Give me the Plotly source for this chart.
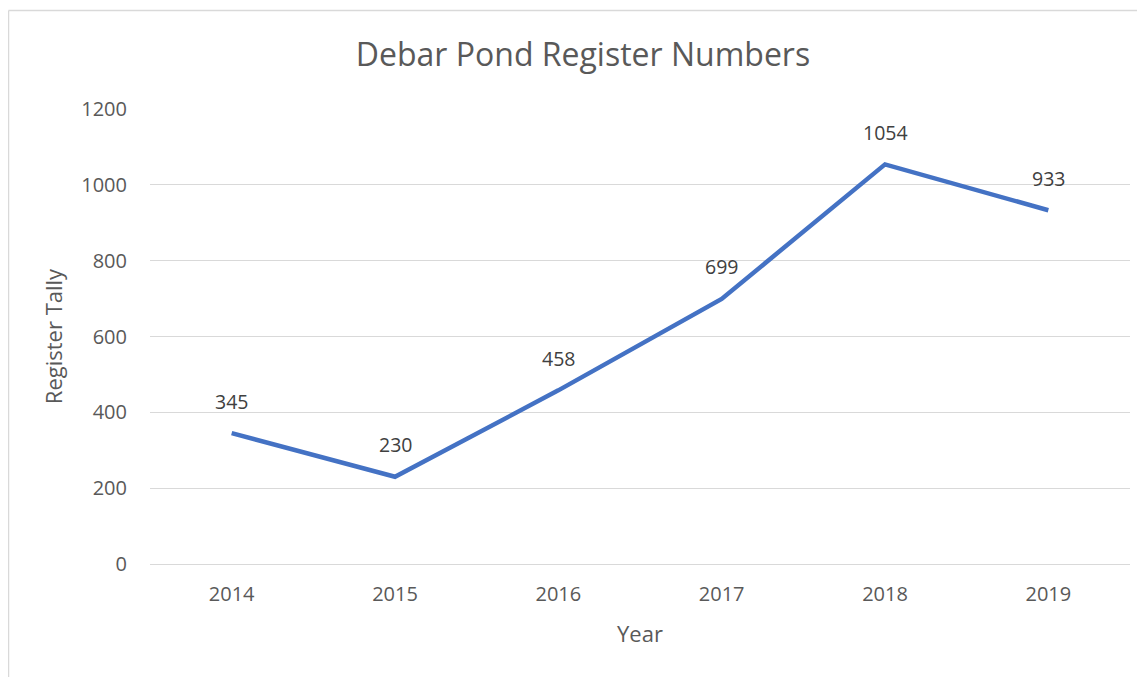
import plotly.graph_objects as go

years = ["2014", "2015", "2016", "2017", "2018", "2019"]
tally = [345, 230, 458, 699, 1054, 933]
y_ticks = [0, 200, 400, 600, 800, 1000, 1200]

TXT = "#595959"
FONT = "Open Sans"

W, H = 1137, 669          # page body adds an 8px margin
L, R, T, B = 142, 15, 101, 113
PW, PH = W - L - R, H - T - B

fig = go.Figure()
fig.add_trace(go.Scatter(
    x=years, y=tally, mode="lines",
    line=dict(color="#4472C4", width=4.5),
    hoverinfo="x+y",
))

# data labels (category axis: use category index for annotation x)
for i, yv in enumerate(tally):
    fig.add_annotation(x=i, y=yv, xref="x", yref="y", text=str(yv), showarrow=False,
                       yshift=32, font=dict(family=FONT, size=19.5, color="#404040"))

# chart border (left and top edges visible in the cropped reference)
bx = (0.5 - L) / PW
by = (H - B - 2.5) / PH
fig.add_shape(type="line", xref="paper", yref="paper",
              x0=bx, x1=bx, y0=-B / PH, y1=by,
              line=dict(color="#D9D9D9", width=1.5))
fig.add_shape(type="line", xref="paper", yref="paper",
              x0=bx, x1=1 + R / PW, y0=by, y1=by,
              line=dict(color="#D9D9D9", width=1.5))

fig.update_layout(
    width=W, height=H,
    margin=dict(l=L, r=R, t=T, b=B),
    paper_bgcolor="white", plot_bgcolor="white",
    showlegend=False,
    title=dict(text="Debar Pond Register Numbers", x=575 / W, xanchor="center",
               y=1 - 47 / H, yanchor="middle",
               font=dict(family=FONT, size=32, color=TXT)),
    font=dict(family=FONT, color=TXT),
    xaxis=dict(type="category", categoryorder="array", categoryarray=years,
               range=[-0.5, 5.5], showgrid=False, showline=False, ticks="",
               tickfont=dict(size=20, color=TXT), ticklabelstandoff=16,
               title=dict(text="Year", font=dict(size=22, color=TXT), standoff=20)),
    yaxis=dict(range=[0, 1200], tickvals=y_ticks, showgrid=True, gridcolor="#D9D9D9",
               gridwidth=1.3, zeroline=True, zerolinecolor="#D9D9D9", zerolinewidth=1.3,
               showline=False, ticks="", ticklen=0,
               tickfont=dict(size=20, color=TXT), ticklabelstandoff=22,
               title=dict(text="Register Tally", font=dict(size=22, color=TXT), standoff=12)),
)

fig.write_html("out.html")
